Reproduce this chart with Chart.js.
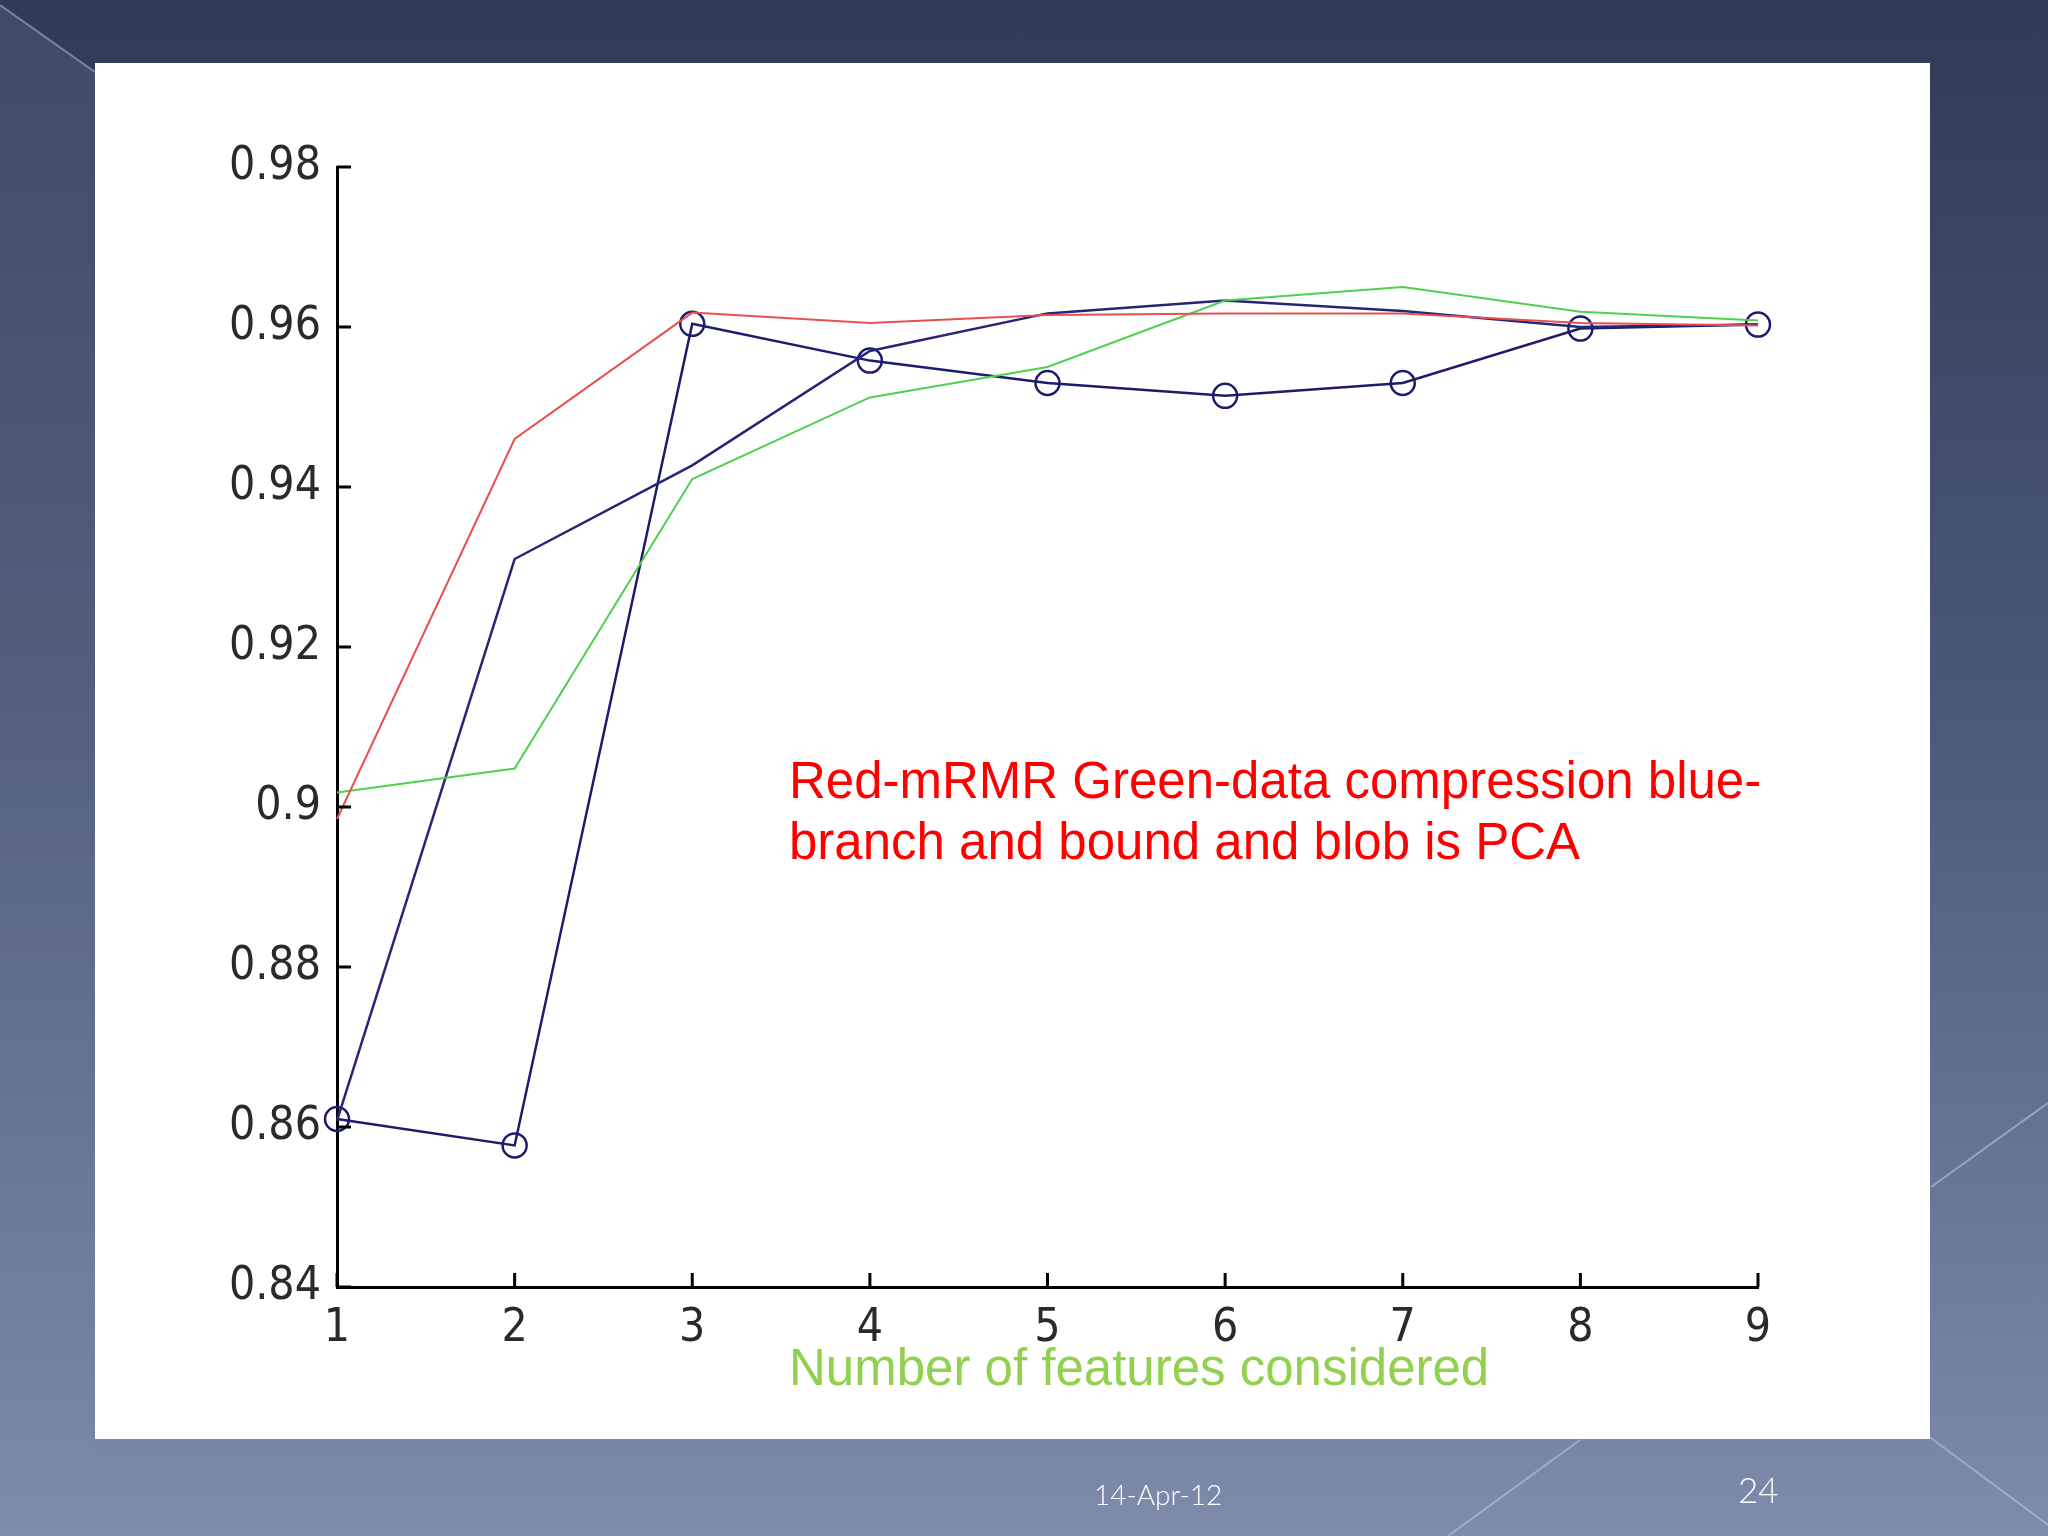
<!DOCTYPE html>
<html>
<head>
<meta charset="utf-8">
<script src="https://cdn.jsdelivr.net/npm/chart.js@4.4.1/dist/chart.umd.min.js"></script>
<style>
  html, body { margin: 0; padding: 0; }
  body {
    width: 2048px; height: 1536px; position: relative; overflow: hidden;
    background: linear-gradient(to bottom, #2f3b57 0%, #4a5878 45%, #7d8cab 100%);
  }
  #deco { position: absolute; left: 0; top: 0; }
  #panel { position: absolute; left: 95px; top: 63px; width: 1835px; height: 1376px; background: #fff; }
  #wrap { position: absolute; left: 0; top: 0; width: 2048px; height: 1536px; }
  .note { position: absolute; font-family: "Liberation Sans", Arial, sans-serif; font-size: 51px; white-space: nowrap; }
  #legendNote { left: 789px; top: 750px; color: #ff0000; line-height: 61px; }
  #xTitle { left: 789px; top: 1338px; color: #92d050; }
  .foot { position: absolute; color: #fff; font-family: Lato, "Open Sans", sans-serif; font-weight: 300; }
</style>
</head>
<body>
<svg id="deco" width="2048" height="1536">
  <defs>
    <linearGradient id="stripFade" x1="0" y1="0" x2="0" y2="1">
      <stop offset="0" stop-color="#fff" stop-opacity="0.08"/>
      <stop offset="1" stop-color="#fff" stop-opacity="0"/>
    </linearGradient>
  </defs>
  <polygon points="0,5 95,72 95,1536 0,1536" fill="url(#stripFade)"/>
  <line x1="0" y1="5" x2="95" y2="72" stroke="rgba(255,255,255,0.35)" stroke-width="2"/>
  <line x1="1931" y1="1187" x2="2048" y2="1103" stroke="rgba(255,255,255,0.35)" stroke-width="2"/>
  <line x1="1920" y1="1430" x2="2048" y2="1525" stroke="rgba(255,255,255,0.3)" stroke-width="2"/>
  <line x1="1580" y1="1440" x2="1448" y2="1536" stroke="rgba(255,255,255,0.3)" stroke-width="2"/>
</svg>
<div id="panel"></div>
<div id="wrap"><canvas id="accChart"></canvas></div>
<div class="note" id="legendNote">Red-mRMR Green-data compression blue-<br>branch and bound and blob is PCA</div>
<div class="note" id="xTitle">Number of features considered</div>
<div class="foot" style="left:1094px; top:1477px; font-size:28px;">14-Apr-12</div>
<div class="foot" style="left:1738px; top:1468px; font-size:35px;">24</div>
<script>
// number of features on the x axis
const features = ["1", "2", "3", "4", "5", "6", "7", "8", "9"];
const yTicks = [0.84, 0.86, 0.88, 0.9, 0.92, 0.94, 0.96, 0.98];

// accuracy values
const mrmr = [0.8985, 0.946, 0.9618, 0.9605, 0.9615, 0.9617, 0.9617, 0.9605, 0.9602];
const dataCompression = [0.9018, 0.9048, 0.941, 0.9512, 0.955, 0.9633, 0.965, 0.9619, 0.9608];
const branchBound = [0.8608, 0.931, 0.9427, 0.957, 0.9617, 0.9633, 0.962, 0.9600, 0.9603];
const pca = [0.861, 0.8577, 0.9604, 0.9558, 0.953, 0.9514, 0.953, 0.9598, 0.9603];

// MATLAB style ticks pointing into the axes
const innerTicks = {
  id: "innerTicks",
  afterDraw(chart) {
    const { ctx, chartArea, scales } = chart;
    ctx.save();
    ctx.strokeStyle = "#000";
    ctx.lineWidth = 3;
    ctx.beginPath();
    yTicks.forEach(v => {
      const y = scales.y.getPixelForValue(v);
      ctx.moveTo(chartArea.left, y);
      ctx.lineTo(chartArea.left + 14, y);
    });
    features.forEach((f, i) => {
      const x = scales.x.getPixelForValue(i);
      ctx.moveTo(x, chartArea.bottom);
      ctx.lineTo(x, chartArea.bottom - 14);
    });
    ctx.stroke();
    ctx.restore();
  }
};

const tickFont = { family: "'Liberation Sans Narrow', 'DejaVu Sans Condensed', sans-serif", size: 46 };

const ctx = document.getElementById("accChart").getContext("2d");
new Chart(ctx, {
  type: "line",
  data: {
    labels: features,
    datasets: [
      { label: "mRMR", data: mrmr, borderColor: "#e65050", borderWidth: 2, pointRadius: 0, tension: 0 },
      { label: "data compression", data: dataCompression, borderColor: "#4fd04f", borderWidth: 2, pointRadius: 0, tension: 0 },
      { label: "branch and bound", data: branchBound, borderColor: "#262676", borderWidth: 2.5, pointRadius: 0, tension: 0 },
      {
        label: "PCA", data: pca, borderColor: "#1c1c6c", borderWidth: 2.5, tension: 0,
        pointRadius: 12, pointBorderWidth: 2.5, pointBackgroundColor: "rgba(0,0,0,0)", pointBorderColor: "#1c1c6c"
      }
    ]
  },
  options: {
    responsive: true,
    maintainAspectRatio: false,
    animation: false,
    layout: { padding: { left: 0, top: 167, right: 290, bottom: 0 } },
    plugins: { legend: { display: false }, tooltip: { enabled: false } },
    scales: {
      x: {
        type: "category",
        offset: false,
        grid: { drawOnChartArea: false, drawTicks: false },
        border: { display: true, color: "#000", width: 3 },
        ticks: { color: "#2a2a2a", font: tickFont, padding: 14, maxRotation: 0 },
        afterFit(scale) { scale.height = 249; }
      },
      y: {
        min: 0.84,
        max: 0.98,
        grid: { drawOnChartArea: false, drawTicks: false },
        border: { display: true, color: "#000", width: 3 },
        ticks: {
          stepSize: 0.02,
          color: "#2a2a2a",
          font: tickFont,
          padding: 16,
          callback: v => String(+v.toFixed(2))
        },
        afterFit(scale) { scale.width = 337; }
      }
    }
  },
  plugins: [innerTicks]
});
</script>
</body>
</html>
